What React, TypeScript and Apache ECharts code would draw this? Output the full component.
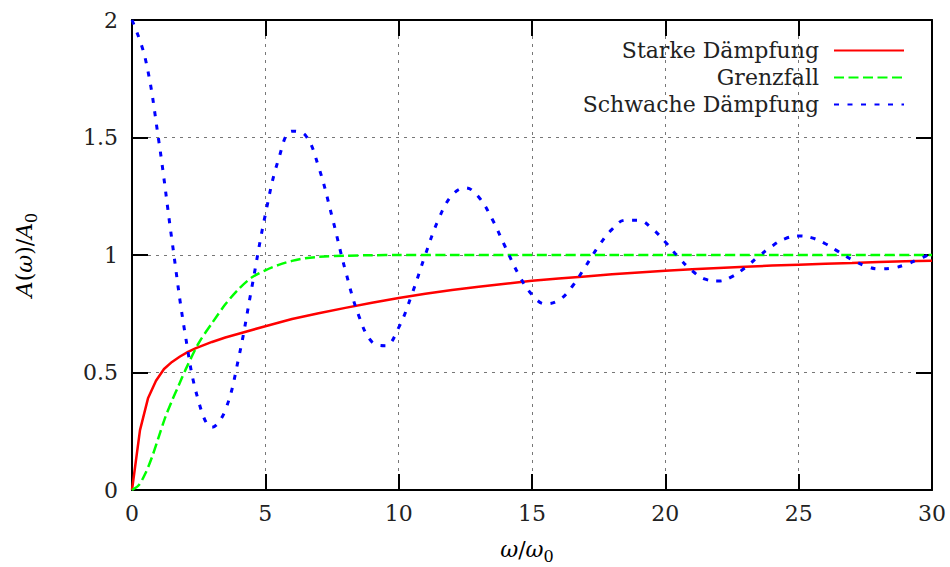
import React, { useEffect, useRef } from "react";
import * as echarts from "echarts";

const seriesNames = ["Starke Dämpfung", "Grenzfall", "Schwache Dämpfung"];
const seriesColors = ["#ff0000", "#00ff00", "#0000ff"];

const strongX = [0, 0.3, 0.6, 0.9, 1.2, 1.5, 1.8, 2.1, 2.4, 3, 3.5, 4, 5, 6, 7, 8, 9, 10, 11, 12, 13, 14, 15, 16, 17, 18, 19, 20, 21, 22, 23, 24, 25, 26, 27, 28, 29, 30];
const strongY = [0, 0.255, 0.39, 0.465, 0.515, 0.545, 0.568, 0.588, 0.604, 0.63, 0.649, 0.665, 0.697, 0.728, 0.752, 0.775, 0.797, 0.817, 0.835, 0.851, 0.865, 0.878, 0.89, 0.9, 0.909, 0.918, 0.926, 0.933, 0.939, 0.945, 0.95, 0.955, 0.959, 0.963, 0.966, 0.97, 0.973, 0.976];

const criticalX = [0, 0.25, 0.5, 0.75, 1, 1.25, 1.5, 1.75, 2, 2.5, 3, 3.5, 4, 4.5, 5, 5.5, 6, 6.5, 7, 8, 9, 10, 12, 14, 16, 18, 20, 22, 24, 26, 28, 30];
const criticalY = [0, 0.02, 0.07, 0.14, 0.225, 0.31, 0.38, 0.445, 0.51, 0.625, 0.71, 0.79, 0.855, 0.905, 0.935, 0.958, 0.975, 0.986, 0.992, 0.997, 0.999, 1, 1, 1, 1, 1, 1, 1, 1, 1, 1, 1];

const weakX = [0, 0.5, 1, 1.5, 2, 2.5, 3, 3.5, 4, 4.5, 5, 5.5, 6, 6.5, 7, 7.5, 8, 8.5, 9, 9.5, 10, 10.5, 11, 11.5, 12, 12.5, 13, 13.5, 14, 14.5, 15, 15.5, 16, 16.5, 17, 17.5, 18, 18.5, 19, 19.5, 20, 20.5, 21, 21.5, 22, 22.5, 23, 23.5, 24, 24.5, 25, 25.5, 26, 26.5, 27, 27.5, 28, 28.5, 29, 29.5, 30];
const weakY = [2.0, 1.835, 1.489, 1.061, 0.659, 0.376, 0.267, 0.34, 0.562, 0.866, 1.172, 1.409, 1.527, 1.51, 1.374, 1.164, 0.935, 0.743, 0.63, 0.614, 0.691, 0.834, 1.001, 1.153, 1.254, 1.286, 1.247, 1.154, 1.034, 0.917, 0.831, 0.792, 0.807, 0.865, 0.95, 1.038, 1.109, 1.148, 1.148, 1.113, 1.055, 0.99, 0.933, 0.897, 0.889, 0.908, 0.947, 0.994, 1.038, 1.07, 1.081, 1.073, 1.048, 1.014, 0.98, 0.954, 0.941, 0.944, 0.959, 0.982, 1.008];

const FONT = "DejaVu Serif";
const TEXT = "#222";
const FS = 22;

export default function App() {
  const ref = useRef<HTMLDivElement>(null);
  useEffect(() => {
    if (!ref.current) return;
    const chart = echarts.init(ref.current, null, { renderer: "svg" });
    const zip = (xs: number[], ys: number[]) => xs.map((x, i) => [x, ys[i]]);
    const axisLine = { show: true, onZero: false, lineStyle: { color: "#000", width: 2 } };
    const axisTick = { show: true, inside: true, length: 16, lineStyle: { color: "#000", width: 2 } };
    const split = { show: true, lineStyle: { color: "#777", width: 1, type: [3, 5] } };
    const label = { fontFamily: FONT, fontSize: FS, color: TEXT };
    const rich = {
      i: { fontFamily: FONT, fontSize: FS, fontStyle: "italic", color: TEXT, lineHeight: 30 },
      r: { fontFamily: FONT, fontSize: FS, color: TEXT, lineHeight: 30 },
      s: { fontFamily: FONT, fontSize: 16, color: TEXT, lineHeight: 16, verticalAlign: "bottom" },
    };
    chart.setOption({
      animation: false,
      backgroundColor: "#fff",
      textStyle: { fontFamily: FONT },
      grid: { left: 132, right: 18, top: 20, bottom: 77, containLabel: false },
      xAxis: [
        {
          type: "value", min: 0, max: 30, interval: 5, position: "bottom",
          axisLine, axisTick, splitLine: split,
          axisLabel: { ...label, margin: 12 },
        },
        {
          type: "value", min: 0, max: 30, interval: 5, position: "top",
          axisLine, axisTick, splitLine: { show: false }, axisLabel: { show: false },
        },
      ],
      yAxis: [
        {
          type: "value", min: 0, max: 2, interval: 0.5, position: "left",
          axisLine, axisTick, splitLine: split,
          axisLabel: { ...label, margin: 14 },
        },
        {
          type: "value", min: 0, max: 2, interval: 0.5, position: "right",
          axisLine, axisTick, splitLine: { show: false }, axisLabel: { show: false },
        },
      ],
      legend: {
        orient: "vertical", right: 45, top: 37, align: "right", padding: 0,
        itemWidth: 70, itemHeight: 14, itemGap: 0,
        itemStyle: { opacity: 0 },
        textStyle: { fontFamily: FONT, fontSize: FS, color: TEXT, lineHeight: 27, padding: [0, 10, 0, 0] },
        data: seriesNames,
      },
      series: [
        {
          name: seriesNames[0], type: "line", data: zip(strongX, strongY),
          symbol: "circle", symbolSize: 0, showSymbol: false, smooth: false,
          itemStyle: { color: seriesColors[0] },
          lineStyle: { color: seriesColors[0], width: 2.5, type: "solid" },
          z: 3,
        },
        {
          name: seriesNames[1], type: "line", data: zip(criticalX, criticalY),
          symbol: "circle", symbolSize: 0, showSymbol: false, smooth: 0.3,
          itemStyle: { color: seriesColors[1] },
          lineStyle: { color: seriesColors[1], width: 2.5, type: [10, 4.5] },
          z: 4,
        },
        {
          name: seriesNames[2], type: "line", data: zip(weakX, weakY),
          symbol: "circle", symbolSize: 0, showSymbol: false, smooth: 0.4,
          itemStyle: { color: seriesColors[2] },
          lineStyle: { color: seriesColors[2], width: 3, type: [5, 8.5] },
          z: 5,
        },
      ],
      graphic: [
        {
          type: "text", x: 24, y: 255, rotation: Math.PI / 2,
          style: {
            text: "{i|A}{r|(}{i|ω}{r|)/}{i|A}{s|0}",
            rich, align: "center", verticalAlign: "middle",
          },
        },
        {
          type: "text", x: 527, y: 549,
          style: {
            text: "{i|ω}{r|/}{i|ω}{s|0}",
            rich, align: "center", verticalAlign: "middle",
          },
        },
      ],
    });
    return () => chart.dispose();
  }, []);
  return <div ref={ref} style={{ position: "absolute", left: 0, top: 0, width: 950, height: 567 }} />;
}
